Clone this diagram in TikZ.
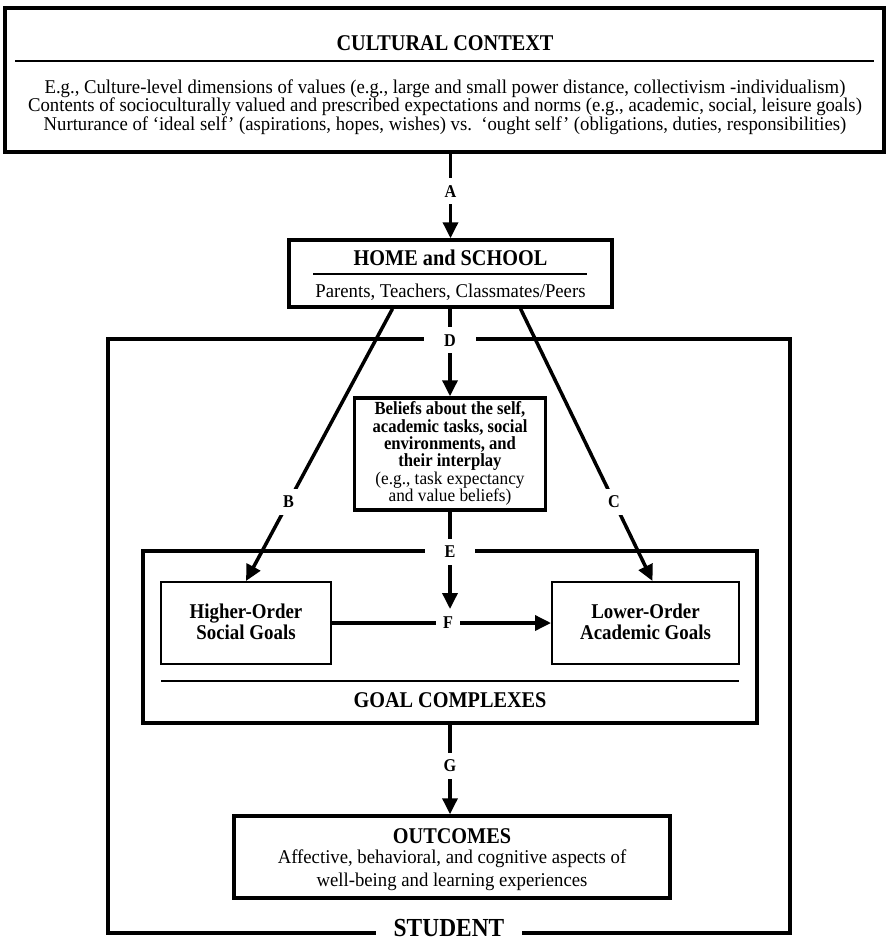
\documentclass[tikz,border=0pt]{standalone}
\usepackage{fontspec}
\setmainfont{Liberation Serif}[FakeStretch=0.96, BoldFeatures={FakeStretch=0.9}]
\usetikzlibrary{arrows.meta,calc}
\tikzset{
  thickbox/.style={draw, line width=3.5pt, inner sep=0pt, rectangle},
  thinbox/.style={draw, line width=2pt, inner sep=0pt, rectangle},
  rulel/.style={line width=2pt},
  conn/.style={line width=3.5pt, -{Triangle[length=16pt,width=15pt]}},
  lbl/.style={fill=white, inner xsep=7pt, inner ysep=7pt, font=\fontsize{18}{18}\selectfont\bfseries},
  wlbl/.style={lbl, inner xsep=20pt},
  headf/.style={font=\fontsize{22.5}{23}\selectfont\bfseries},
  bodyf/.style={font=\fontsize{19.5}{18.5}\selectfont, align=center},
}
\begin{document}
\begin{tikzpicture}[x=1pt,y=-1pt]
\useasboundingbox (0,0) rectangle (888,942);

% boxes
\node[thickbox, line width=4.5pt, minimum width=879pt, minimum height=144pt] (cult) at (444.5,80) {};
\node[thickbox, minimum width=682pt, minimum height=594pt] (student) at (449,636) {};
\node[thickbox, minimum width=323pt, minimum height=67pt] (home) at (450.5,273.5) {};
\node[thickbox, minimum width=191pt, minimum height=112pt] (beliefs) at (450,454) {};
\node[thickbox, minimum width=614pt, minimum height=172pt] (goal) at (450,637) {};
\node[thinbox, minimum width=170pt, minimum height=82pt] (high) at (246,623) {};
\node[thinbox, minimum width=187pt, minimum height=82pt] (low) at (645.5,623) {};
\node[thickbox, minimum width=436pt, minimum height=82pt] (out) at (452,857) {};

% rules
\coordinate (cr1) at (15,61); \coordinate (cr2) at (874,61);
\draw[rulel] (cr1) -- (cr2);
\coordinate (hr1) at (313,274); \coordinate (hr2) at (587,274);
\draw[rulel] (hr1) -- (hr2);
\coordinate (gr1) at (161,681); \coordinate (gr2) at (739,681);
\draw[rulel] (gr1) -- (gr2);

% texts
\node[headf] (ctitle) at (445,43) {CULTURAL CONTEXT};
\node[bodyf] (cbody) at (445,107) {E.g., Culture-level dimensions of values (e.g., large and small power distance, collectivism -individualism)\\
Contents of socioculturally valued and prescribed expectations and norms (e.g., academic, social, leisure goals)\\
Nurturance of ‘ideal self’ (aspirations, hopes, wishes) vs.\ \ ‘ought self’ (obligations, duties, responsibilities)};

\node[headf] (htitle) at (450.5,258) {HOME and SCHOOL};
\node[bodyf] (hbody) at (450.5,292) {Parents, Teachers, Classmates/Peers};

\node[font=\fontsize{18.5}{17.3}\selectfont\bfseries, align=center] (btext) at (450,453.5)
 {Beliefs about the self,\\ academic tasks, social\\ environments, and\\ their interplay\\ \mdseries\fontsize{18}{17.3}\selectfont (e.g., task expectancy\\ \mdseries\fontsize{18}{17.3}\selectfont and value beliefs)};

\node[font=\fontsize{21}{21.5}\selectfont\bfseries, align=center] (htext) at (246,622) {Higher-Order\\ Social Goals};
\node[font=\fontsize{21}{21.5}\selectfont\bfseries, align=center] (ltext) at (645.5,622) {Lower-Order\\ Academic Goals};
\node[headf] (gtitle) at (450,700) {GOAL COMPLEXES};

\node[headf] (otitle) at (452,836) {OUTCOMES};
\node[font=\fontsize{19.5}{23}\selectfont, align=center] (obody) at (452,870.5) {Affective, behavioral, and cognitive aspects of\\ well-being and learning experiences};

% connectors
\draw[conn] (home.north |- cult.south) -- node[lbl, pos=0.44] (la) {A} (home.north);
\draw[conn] ([xshift=-58pt]home.south) -- node[lbl, pos=0.709] (lb) {B} (high.north);
\draw[conn] ([xshift=70pt]home.south) -- node[lbl, pos=0.709] (lc) {C} ([xshift=7pt]low.north);
\draw[conn] (home.south -| beliefs.north) -- node[wlbl, pos=0.36] (ld) {D} (beliefs.north);
\coordinate (etip) at (450,609);
\draw[conn] (beliefs.south) -- node[wlbl, pos=0.41] (le) {E} (etip);
\draw[conn] (high.east) -- node[lbl, pos=0.53] (lf) {F} (low.west);
\draw[conn] (goal.south) -- node[lbl, pos=0.46] (lg) {G} (goal.south |- out.north);

\node[fill=white, inner xsep=18pt, inner ysep=1pt, font=\fontsize{26}{26}\selectfont\bfseries] (stud) at (449,928) {STUDENT};
\end{tikzpicture}
\end{document}
